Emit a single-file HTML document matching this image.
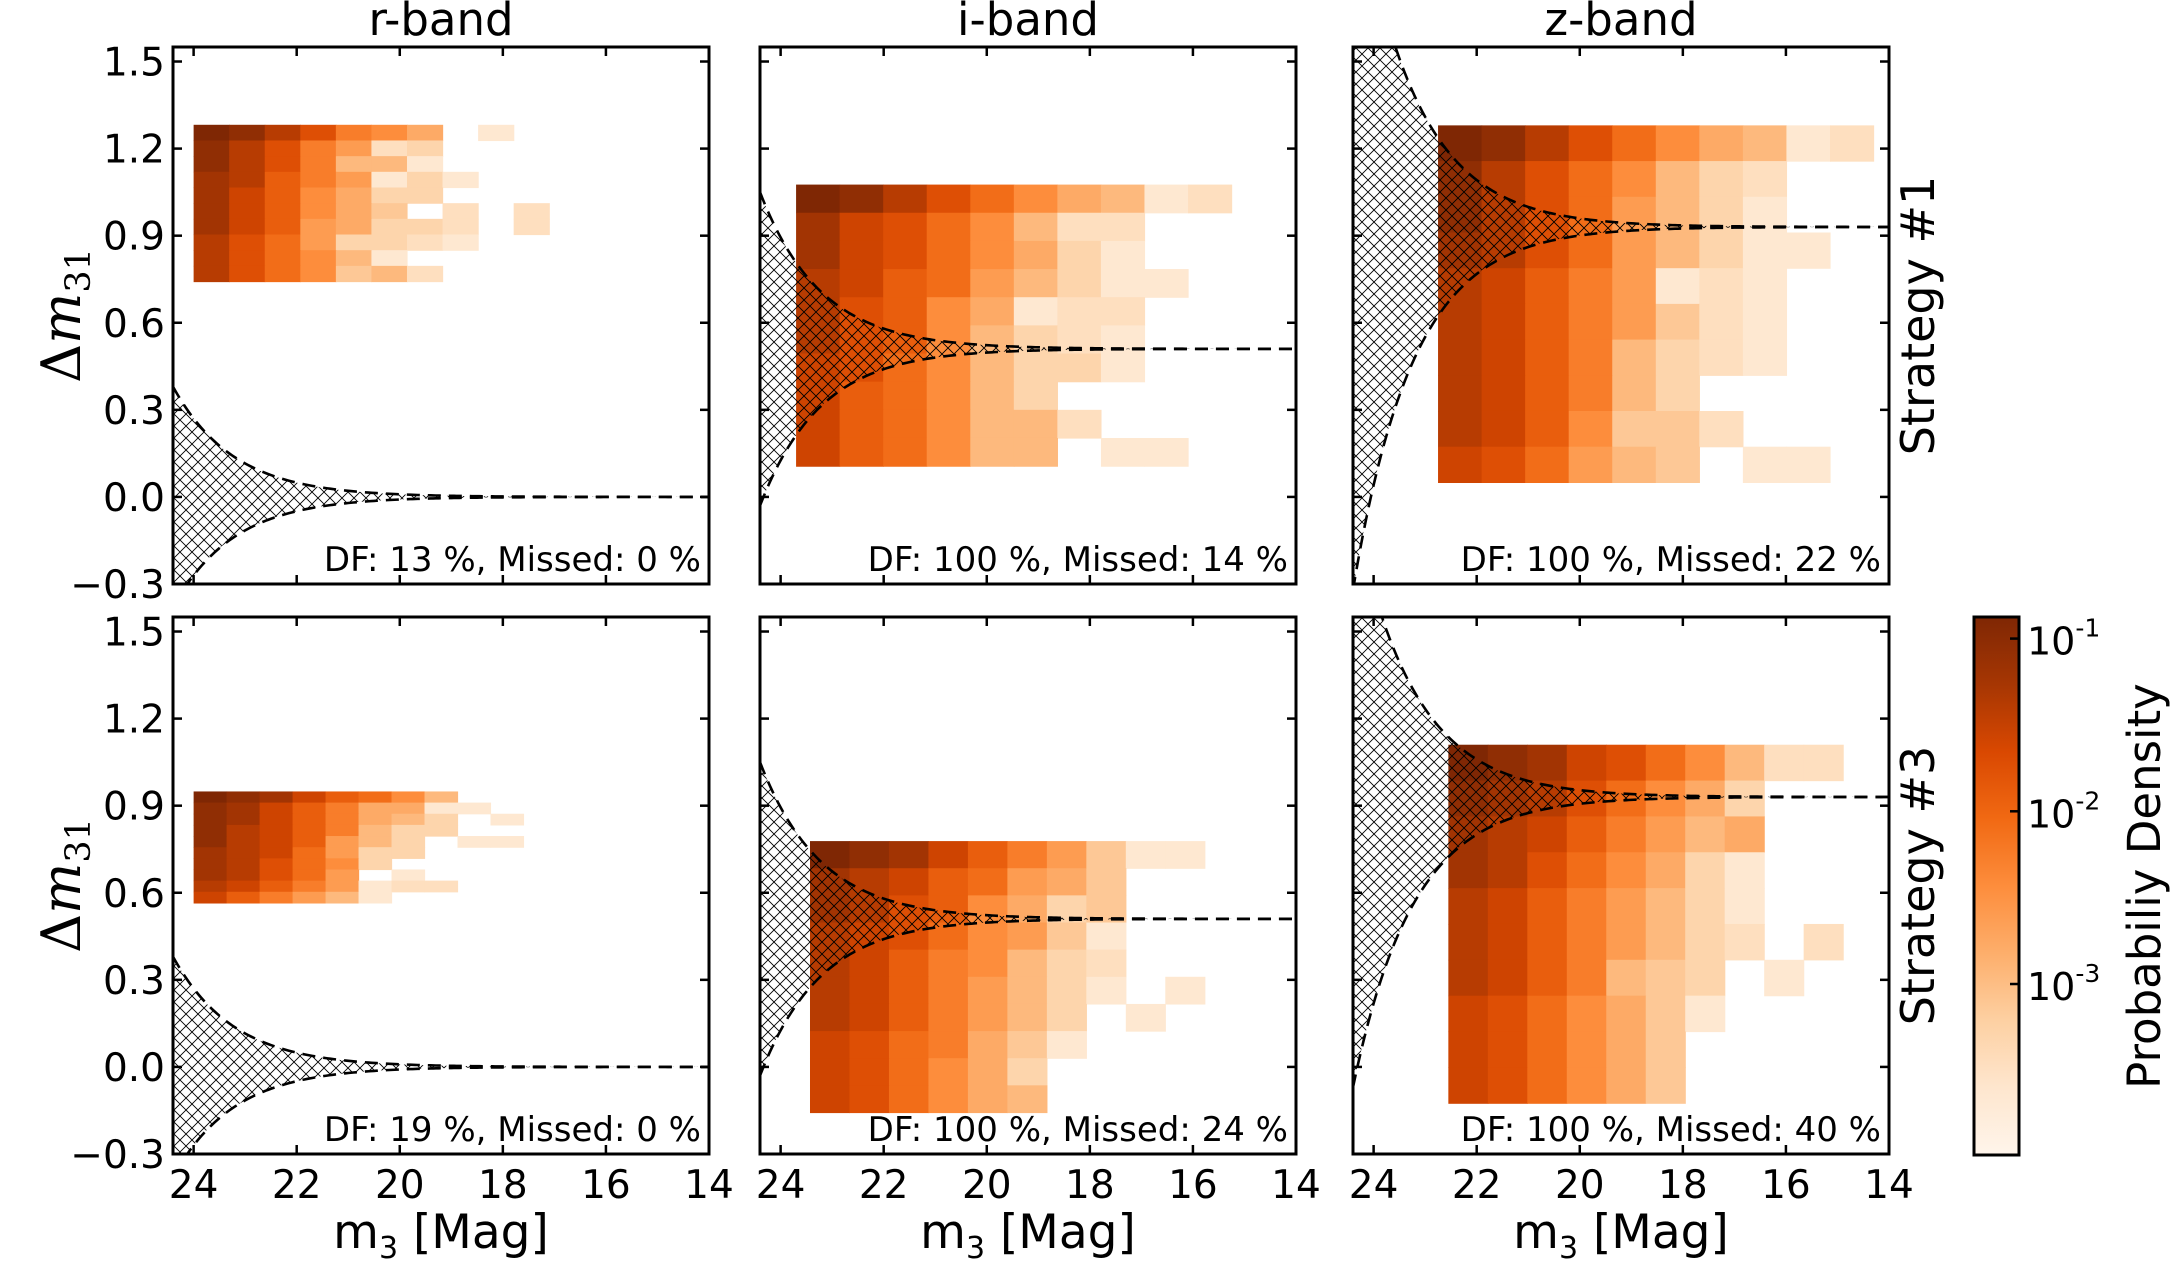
<!DOCTYPE html>
<html><head><meta charset="utf-8"><style>
html,body{margin:0;padding:0;background:#fff;}
svg{display:block;font-family:"DejaVu Sans","Liberation Sans",sans-serif;}
</style></head><body>
<svg id="fig" width="2170" height="1263" viewBox="0 0 2170 1263" xmlns="http://www.w3.org/2000/svg">
<defs>
<pattern id="hatch" patternUnits="userSpaceOnUse" width="12" height="12">
<path d="M0,0L12,12M12,0L0,12" stroke="#000" stroke-width="0.9"/>
</pattern>
<linearGradient id="cbgrad" x1="0" y1="1" x2="0" y2="0">
<stop offset="0" stop-color="#fff5eb"/><stop offset="0.125" stop-color="#fee6ce"/><stop offset="0.25" stop-color="#fdd0a2"/><stop offset="0.375" stop-color="#fdae6b"/><stop offset="0.5" stop-color="#fd8d3c"/><stop offset="0.625" stop-color="#f16913"/><stop offset="0.75" stop-color="#d94801"/><stop offset="0.875" stop-color="#a63603"/><stop offset="1" stop-color="#7f2704"/>
</linearGradient>
</defs>
</svg>
<script>
// ---- data ----
const bands = ["r-band","i-band","z-band"];
const strategies = ["Strategy #1","Strategy #3"];
const yTicks = [-0.3,0.0,0.3,0.6,0.9,1.2,1.5];
const yTickLabels = ["\u22120.3","0.0","0.3","0.6","0.9","1.2","1.5"];
const xTicks = [24,22,20,18,16,14];
const xTickLabels = ["24","22","20","18","16","14"];
const dfLabels = ["DF: 13 %, Missed: 0 %","DF: 100 %, Missed: 14 %","DF: 100 %, Missed: 22 %",
                  "DF: 19 %, Missed: 0 %","DF: 100 %, Missed: 24 %","DF: 100 %, Missed: 40 %"];
// envelope centre and width at m=24.4
const envCenter = [0.0,0.51,0.93,0.0,0.51,0.93];
const envWidth0 = [0.38,0.54,1.25,0.38,0.54,1.0];
// histogram bin grids: left edge mag, bin width mag, top edge, bin height
const binX0 = [24.0,23.7,22.75,24.0,23.43,22.55];
const binDX = [0.69,0.845,0.845,0.64,0.766,0.766];
const binY0 = [1.282,1.076,1.28,0.949,0.778,1.11];
const binDY = [0.054,0.097,0.123,0.0384,0.0935,0.1235];
// shade levels (0 = empty, 9 = densest)
const hist1 = [[9,8.5,7.5,6.5,5,4.5,3.5,0,1,0],[8.5,7.5,6.5,5,4,1.5,2,0],[8.5,7.5,6.5,5,3,3,1,0],[8,7.5,6,5,4,1,2,1],[8,7,6,4.5,3.5,2,2,0],[8,7,6,4.5,3.5,2.5,0,1.5,0,1.5],[8,7,6,4,3.5,2,2,1.5,0,1.5],[7.5,6.5,5.5,4,2,2,1.5,1],[7.5,6.5,5.5,4.5,3,1,0],[7.5,6.5,5.5,4.5,2.5,3,1.5]];
const hist2 = [[9,8.5,7.5,6.5,5.5,4.5,3.5,3,1,1.5],[8,7,6.5,5.5,4.5,3,1.5,1.5],[8,7,6.5,5.5,4.5,3.5,2,1],[7.5,7,6,5.5,4,3,2,1,1],[7.5,6.5,6,4.5,3.5,1,1.5,1.5],[7.5,6.5,6,4.5,3,2,1.5,1],[7,6.5,5.5,4.5,3,2,2,1],[7,6,5.5,4.5,3,2,0,0],[7,6,5.5,4.5,3,3,1.5,0],[7,6,5.5,4.5,3,3,0,1,1,0]];
const hist3 = [[9,8.5,7.5,6.5,5.5,4.5,3.5,3,1,1.5],[8.5,7.5,6.5,5.5,4.5,3,2,1.5],[8.5,7.5,6.5,5.5,4,3,2,1],[8,7.5,6.5,5.5,4,3,2,1,1],[7.5,7,6,5,4,1,1.5,1],[7.5,7,6,5,4,2.5,1.5,1],[7.5,7,6,5,3,2,1.5,1],[7.5,7,6,5,3,2,0,0],[7.5,7,6,4.5,2.5,2.5,1.5,0],[7,6.5,5.5,4,3,2.5,0,1,1,0]];
const hist4 = [[9,8.5,8,7,6,5.5,4.5,3],[8.5,8,7,6,5,3.5,3.5,1,1],[8.5,8,7,6,5,3.5,3,2,0,1],[8.5,7.5,7,6,5,3,2,2],[8.5,7.5,7,6,4,3,2,0,1,1],[8,7.5,7,5.5,4,2,2,0],[8,7.5,6.5,5.5,4.5,2,0,0],[8,7.5,6.5,5.5,4,0,1,0],[7.5,7,6,5,4,1,1.5,1.5],[7,6,5,4,3,1,0]];
const hist5 = [[9,8.5,8,7,6,5,4,2.5,1,1],[8,7.5,7,6,5.5,4,3.5,2.5],[8,7.5,6.5,6,4.5,3.5,2,2.5],[7.5,7,6.5,5.5,4.5,4,2.5,1],[7.5,7,6,5,4.5,3,2,1.5],[7.5,7,6,5,4,3,2,1,0,1],[7.5,7,6,5,4,3,2,0,1,0],[7,6.5,5.5,5,3.5,2.5,1,0],[7,6.5,5.5,4.5,3.5,2,0],[7,6.5,5.5,4.5,3.5,3,0]];
const hist6 = [[9,8.5,8,7,6.5,5.5,4.5,3,1.5,1.5],[8.5,8,7.5,6.5,5.5,4.5,3.5,2],[8,7.5,7,6,5,4,3,3.5],[8,7.5,6.5,5.5,4.5,3.5,2,1],[7.5,7,6,5,4,3,2,1],[7.5,7,6,5,4,3,2,1.5,0,1.5],[7.5,7,6,5,3,2.5,2,0,1,0],[7,6.5,5.5,4.5,3.5,2.5,1,0],[7,6.5,5.5,4.5,3.5,2.5,0],[7,6.5,5.5,4.5,3.5,2.5,0]];
const hists = [hist1,hist2,hist3,hist4,hist5,hist6];
const cbTicks = [-1,-2,-3];
const cbTickLabels = ["-1","-2","-3"];

// ---- layout ----
const colX = [173,760,1353], colW = 536;
const rowY = [47,617], rowH = 537;
const xMin = 24.4, xMax = 14, yMin = -0.3, yMax = 1.55;
const cbX = 1974, cbW = 45, cbTop = 617, cbBot = 1155, cbLogTop = -0.875, cbLogBot = -3.99;

const NS = "http://www.w3.org/2000/svg";
const svg = document.getElementById("fig");
function el(tag, attrs, parent){const e=document.createElementNS(NS,tag);for(const k in attrs)e.setAttribute(k,attrs[k]);(parent||svg).appendChild(e);return e;}
const stops=[[0,[255,245,235]],[0.125,[254,230,206]],[0.25,[253,208,162]],[0.375,[253,174,107]],[0.5,[253,141,60]],[0.625,[241,105,19]],[0.75,[217,72,1]],[0.875,[166,54,3]],[1,[127,39,4]]];
function cmap(t){t=Math.max(0,Math.min(1,t));for(let i=1;i<stops.length;i++){if(t<=stops[i][0]){const a=stops[i-1],b=stops[i];const f=(t-a[0])/(b[0]-a[0]);const c=a[1].map((v,j)=>Math.round(v+(b[1][j]-v)*f));return `rgb(${c})`;}}return "rgb(127,39,4)";}

for(let p=0;p<6;p++){
  const r=Math.floor(p/3), c=p%3;
  const L=colX[c], T=rowY[r];
  const sx=m=>L+(xMin-m)/(xMin-xMax)*colW;
  const sy=v=>T+(yMax-v)/(yMax-yMin)*rowH;
  const g=el("g",{});
  
  
  const clip=el("clipPath",{id:"clip"+p},g);
  el("rect",{x:L,y:T,width:colW,height:rowH},clip);
  const plot=el("g",{"clip-path":`url(#clip${p})`},g);
  const H=hists[p];
  for(let i=0;i<H.length;i++){for(let j=0;j<H[i].length;j++){
    const lv=H[i][j]; if(!lv) continue;
    const x1=sx(binX0[p]-j*binDX[p]), x2=sx(binX0[p]-(j+1)*binDX[p]);
    const y1=sy(binY0[p]-i*binDY[p]), y2=sy(binY0[p]-(i+1)*binDY[p]);
    const rc=el("rect",{x:x1,y:y1,width:x2-x1+0.6,height:y2-y1+0.6,fill:cmap(lv/9)},plot);
    
    
  }}
  const up=[],lo=[];
  for(let m=xMin;m>=xMax-0.01;m-=0.05){const w=envWidth0[p]*Math.pow(10,-0.37*(xMin-m));up.push([sx(m),sy(envCenter[p]+w)]);lo.push([sx(m),sy(envCenter[p]-w)]);}
  const poly=up.concat(lo.slice().reverse()).map(q=>q.join(",")).join(" ");
  const hf=el("polygon",{points:poly,fill:"url(#hatch)",stroke:"none"},plot);
  
  
  [up,lo].forEach((arr,k)=>{
    const pl=el("polyline",{points:arr.map(q=>q.join(",")).join(" "),fill:"none",stroke:"#000","stroke-width":2.6,"stroke-dasharray":"13 8"},plot);
    
    
  });
  const fr=el("rect",{x:L,y:T,width:colW,height:rowH,fill:"none",stroke:"#000","stroke-width":3},g);
  
  
  yTicks.forEach((v,k)=>{const y=sy(v);
    el("line",{x1:L,x2:L+9,y1:y,y2:y,stroke:"#000","stroke-width":2.5},g);
    el("line",{x1:L+colW-9,x2:L+colW,y1:y,y2:y,stroke:"#000","stroke-width":2.5},g);
    if(c===0){const t=el("text",{x:L-8,y:y+14,"text-anchor":"end","font-size":39},g);t.textContent=yTickLabels[k];
      }
  });
  xTicks.forEach((v,k)=>{const x=sx(v);
    el("line",{x1:x,x2:x,y1:T,y2:T+9,stroke:"#000","stroke-width":2.5},g);
    el("line",{x1:x,x2:x,y1:T+rowH-9,y2:T+rowH,stroke:"#000","stroke-width":2.5},g);
    if(r===1){const t=el("text",{x:x,y:T+rowH+44,"text-anchor":"middle","font-size":39},g);t.textContent=xTickLabels[k];
      }
  });
  const df=el("text",{x:L+colW-8,y:T+rowH-13,"text-anchor":"end","font-size":34},g);
  df.textContent=dfLabels[p];
  
  
  if(r===0){const t=el("text",{x:L+colW/2,y:35,"text-anchor":"middle","font-size":45},g);t.textContent=bands[c];
    }
  if(r===1){const t=el("text",{x:L+colW/2,y:1248,"text-anchor":"middle","font-size":47},g);
    t.innerHTML='m<tspan font-size="30" dy="10">3</tspan><tspan dy="-10"> [Mag]</tspan>';
    }
  if(c===0){const cy=T+rowH/2;const t=el("text",{x:0,y:0,"text-anchor":"middle","font-size":54,"font-family":"DejaVu Serif, serif",transform:`translate(80,${cy}) rotate(-90)`},g);
    t.innerHTML='\u0394<tspan font-style="italic">m</tspan><tspan font-size="35" dy="10">31</tspan>';
    }
  if(c===2){const cy=T+rowH/2;const t=el("text",{x:0,y:0,"text-anchor":"middle","font-size":46,transform:`translate(1934,${cy}) rotate(-90)`},g);
    t.textContent=strategies[r];}
}
const cb=el("g",{});


el("rect",{x:cbX,y:cbTop,width:cbW,height:cbBot-cbTop,fill:"url(#cbgrad)",stroke:"#000","stroke-width":3},cb);
const cbY=v=>cbTop+(cbLogTop-v)/(cbLogTop-cbLogBot)*(cbBot-cbTop);
cbTicks.forEach((v,k)=>{const y=cbY(v);
  el("line",{x1:cbX+cbW-9,x2:cbX+cbW,y1:y,y2:y,stroke:"#000","stroke-width":2.5},cb);
  const t=el("text",{x:cbX+cbW+8,y:y+16,"font-size":38},cb);
  t.innerHTML='10<tspan font-size="25" dy="-18">'+cbTickLabels[k]+'</tspan>';
  
});
const ct=el("text",{x:0,y:0,"text-anchor":"middle","font-size":45,transform:`translate(2160,${(cbTop+cbBot)/2}) rotate(-90)`},cb);
ct.textContent="Probabiliy Density";


</script>
</body></html>
